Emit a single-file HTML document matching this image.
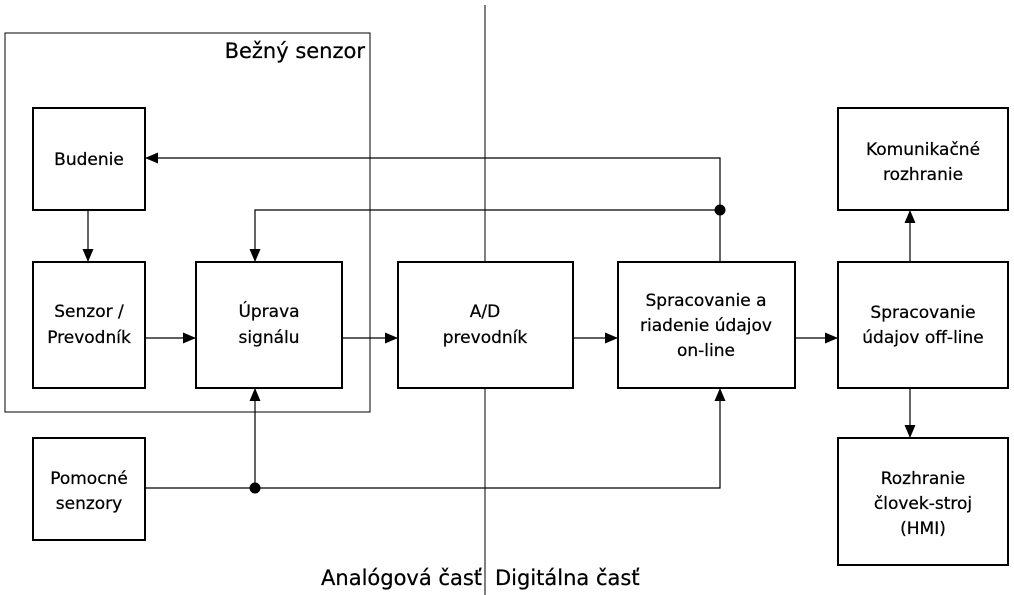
<!DOCTYPE html>
<html><head><meta charset="utf-8"><style>
html,body{margin:0;padding:0;background:#fff;}
svg{display:block;}
text{font-family:"DejaVu Sans","Liberation Sans",sans-serif;font-size:17px;fill:#000;stroke:#000;stroke-width:0.25px;}
</style></head><body>
<svg width="1014" height="595" viewBox="0 0 1014 595" xmlns="http://www.w3.org/2000/svg">
<defs><marker id="a" markerWidth="13" markerHeight="11" refX="12" refY="5.5" orient="auto" markerUnits="userSpaceOnUse"><path d="M0,0 L13,5.5 L0,11 z" fill="#000"/></marker></defs>
<g fill="none" stroke="#000" stroke-width="2">
<rect x="5" y="33" width="365" height="379" stroke-width="1"/>
<line x1="485" y1="5" x2="485" y2="262" stroke-width="1"/>
<line x1="485" y1="388" x2="485" y2="595" stroke-width="1"/>
<rect x="33" y="108" width="112" height="102"/>
<rect x="33" y="262" width="112" height="126"/>
<rect x="196" y="262" width="146" height="126"/>
<rect x="398" y="262" width="175" height="126"/>
<rect x="618" y="262" width="177" height="126"/>
<rect x="838" y="262" width="170" height="126"/>
<rect x="838" y="108" width="170" height="102"/>
<rect x="838" y="438" width="170" height="127"/>
<rect x="33" y="438" width="112" height="102"/>
<g stroke-width="1.2">
<polyline points="720,262 720,158 146,158" marker-end="url(#a)"/>
<polyline points="720,210 255,210 255,261" marker-end="url(#a)"/>
<line x1="88" y1="210" x2="88" y2="261" marker-end="url(#a)"/>
<line x1="145" y1="338" x2="195" y2="338" marker-end="url(#a)"/>
<line x1="342" y1="338" x2="397" y2="338" marker-end="url(#a)"/>
<line x1="573" y1="338" x2="617" y2="338" marker-end="url(#a)"/>
<line x1="795" y1="338" x2="837" y2="338" marker-end="url(#a)"/>
<line x1="910" y1="262" x2="910" y2="211" marker-end="url(#a)"/>
<line x1="910" y1="388" x2="910" y2="437" marker-end="url(#a)"/>
<polyline points="145,488 720,488 720,389" marker-end="url(#a)"/>
<line x1="255" y1="488" x2="255" y2="389" marker-end="url(#a)"/>
</g>
</g>
<circle cx="720" cy="210" r="5.5" fill="#000"/>
<circle cx="255" cy="488" r="5.5" fill="#000"/>
<text x="365" y="58" text-anchor="end" style="font-size:21px">Bežný senzor</text>
<g text-anchor="middle">
<text x="89" y="165">Budenie</text>
<text x="89" y="317">Senzor /</text><text x="89" y="343">Prevodník</text>
<text x="269" y="317">Úprava</text><text x="269" y="343">signálu</text>
<text x="485" y="317">A/D</text><text x="485" y="343">prevodník</text>
<text x="706" y="306">Spracovanie a</text><text x="706" y="331">riadenie údajov</text><text x="706" y="356">on-line</text>
<text x="923" y="318">Spracovanie</text><text x="923" y="343">údajov off-line</text>
<text x="923" y="155">Komunikačné</text><text x="923" y="180">rozhranie</text>
<text x="923" y="484">Rozhranie</text><text x="923" y="509">človek-stroj</text><text x="923" y="534">(HMI)</text>
<text x="89" y="484">Pomocné</text><text x="89" y="509">senzory</text>
</g>
<text x="482" y="585" text-anchor="end" style="font-size:21px">Analógová časť</text>
<text x="495" y="585" style="font-size:21px">Digitálna časť</text>
</svg>
</body></html>
